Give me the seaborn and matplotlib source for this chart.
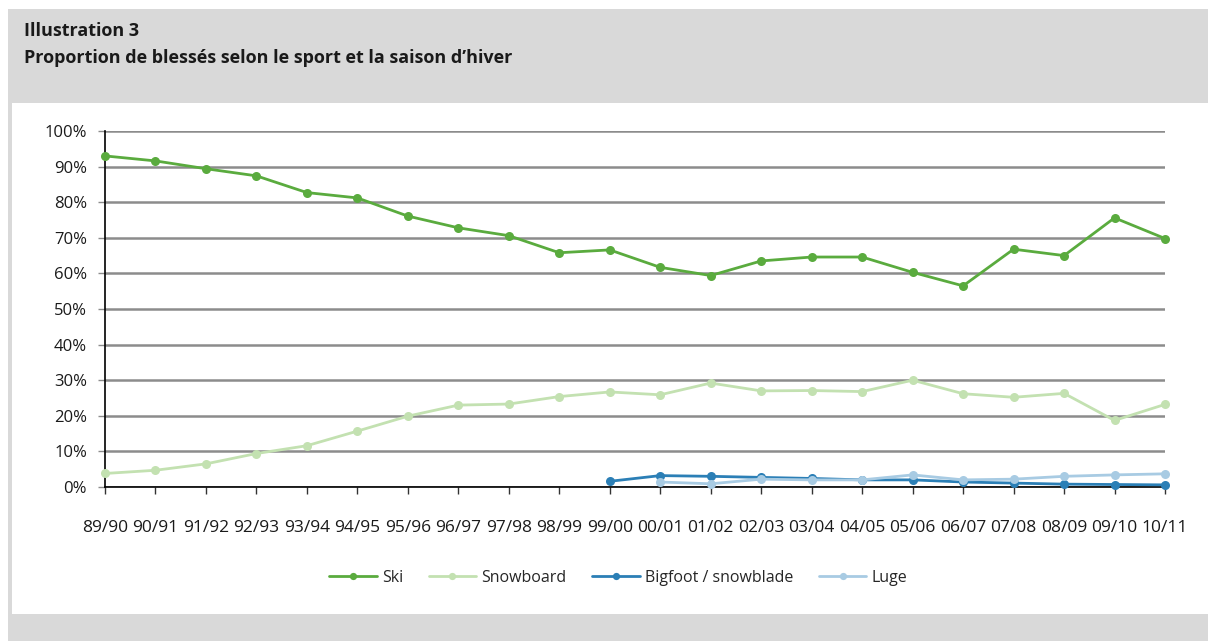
import numpy as np
import pandas as pd
import matplotlib
matplotlib.use("Agg")
import matplotlib.pyplot as plt
from matplotlib.patches import Rectangle
from matplotlib.ticker import PercentFormatter
import seaborn as sns

# Data (percent of injured per sport)
seasons = ["89/90", "90/91", "91/92", "92/93", "93/94", "94/95", "95/96", "96/97",
           "97/98", "98/99", "99/00", "00/01", "01/02", "02/03", "03/04", "04/05",
           "05/06", "06/07", "07/08", "08/09", "09/10", "10/11"]
ski = [93.0, 91.6, 89.4, 87.4, 82.7, 81.2, 76.1, 72.8, 70.6, 65.8, 66.6, 61.7,
       59.4, 63.5, 64.6, 64.6, 60.3, 56.5, 66.8, 65.0, 75.6, 69.8]
snowboard = [3.8, 4.7, 6.5, 9.4, 11.6, 15.7, 19.9, 23.0, 23.3, 25.4, 26.7, 25.9,
             29.2, 27.0, 27.1, 26.8, 30.0, 26.2, 25.2, 26.3, 18.7, 23.2]
bigfoot = [None] * 10 + [1.6, 3.2, 3.0, 2.7, 2.4, 2.0, 2.0, 1.4, 1.1, 0.8, 0.7, 0.6]
luge = [None] * 11 + [1.4, 0.9, 2.2, 2.0, 2.0, 3.4, 2.0, 2.2, 3.0, 3.4, 3.7]

sports = ["Ski", "Snowboard", "Bigfoot / snowblade", "Luge"]
colors = ["#5aab3e", "#c3e1b1", "#2b7fb6", "#a8cbe3"]

frames = []
for name, vals in zip(sports, [ski, snowboard, bigfoot, luge]):
    frames.append(pd.DataFrame({"idx": range(len(seasons)), "value": vals, "sport": name}))
df = pd.concat(frames).dropna()

sns.set_theme(style="white")
plt.rcParams["font.family"] = ["Open Sans", "DejaVu Sans"]

fig = plt.figure(figsize=(12.08, 6.41), dpi=100)
# grey frame and white inner panel, as in the source document
fig.patches.append(Rectangle((8 / 1208, 0), 1, 1 - 9 / 641, transform=fig.transFigure,
                             facecolor="#d9d9d9", edgecolor="none", zorder=-2))
fig.patches.append(Rectangle((12 / 1208, 27 / 641), 1, (614 - 103) / 641,
                             transform=fig.transFigure, facecolor="white",
                             edgecolor="none", zorder=-1))
fig.text(24 / 1208, 1 - 31 / 641, "Illustration 3", fontsize=13, fontweight="bold",
         va="center", ha="left", color="#1a1a1a")
fig.text(24 / 1208, 1 - 58 / 641, "Proportion de blessés selon le sport et la saison d’hiver",
         fontsize=13, fontweight="bold", va="center", ha="left", color="#1a1a1a")

ax = fig.add_axes([105 / 1208, 1 - 487 / 641, (1165 - 105) / 1208, (487 - 131) / 641])
ax.set_facecolor("none")

sns.lineplot(data=df, x="idx", y="value", hue="sport", hue_order=sports,
             palette=colors, marker="o", markersize=6.5, markeredgewidth=0,
             linewidth=2, ax=ax, zorder=3, clip_on=False)

ax.set_xlim(0, len(seasons) - 1)
ax.set_ylim(0, 100)
ax.set_xticks(range(len(seasons)))
ax.set_xticklabels(seasons)
ax.set_yticks(np.arange(0, 101, 10))
ax.yaxis.set_major_formatter(PercentFormatter(decimals=0))
ax.set_xlabel("")
ax.set_ylabel("")

ax.yaxis.grid(True, color="#8c8c8c", linewidth=1.8)
ax.set_axisbelow(True)
for side in ["top", "right"]:
    ax.spines[side].set_visible(False)
ax.spines["left"].set_color("black")
ax.spines["bottom"].set_color("black")
ax.spines["left"].set_linewidth(1.2)
ax.spines["bottom"].set_linewidth(1.2)
ax.tick_params(axis="x", length=5, width=1, color="#333333", pad=19,
               labelsize=12.5, labelcolor="#1a1a1a", bottom=True)
ax.tick_params(axis="y", length=5, width=1, color="#8c8c8c", pad=8,
               labelsize=12, labelcolor="#1a1a1a", left=True)

handles, labels = ax.get_legend_handles_labels()
ax.legend(handles, labels, loc="center", bbox_to_anchor=(618 / 1208, 1 - 578 / 641),
          bbox_transform=fig.transFigure, ncol=4, frameon=False, fontsize=11.5,
          handlelength=3.0, handletextpad=0.3, columnspacing=1.6, markerscale=0.8)

fig.savefig("out.png", dpi=100)
